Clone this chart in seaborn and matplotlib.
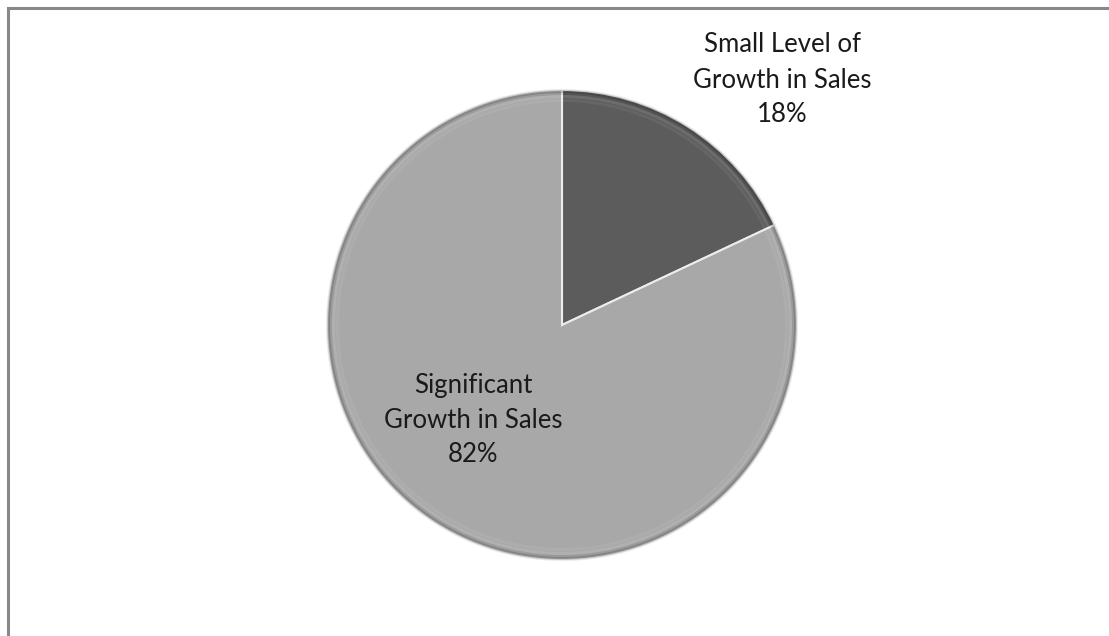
import matplotlib
matplotlib.use("Agg")
import matplotlib.pyplot as plt
from matplotlib.patches import Rectangle, Wedge
import seaborn as sns

# Survey result: growth in sales
categories = ["Small Level of\nGrowth in Sales", "Significant\nGrowth in Sales"]
shares = [18, 82]
slice_colors = ["#5c5c5c", "#a8a8a8"]

sns.set_theme(style="white")
plt.rcParams["font.family"] = ["Lato", "DejaVu Sans"]

W, H = 1109, 636
fig = plt.figure(figsize=(W / 100, H / 100), dpi=100)
ax = fig.add_axes([0, 0, 1, 1])

# y axis runs downward, so -90 degrees is the top of the circle and
# increasing angles sweep clockwise on screen
cx, cy, r = 562, 325, 235
wedges, _ = ax.pie(
    shares,
    colors=slice_colors,
    startangle=-90,
    counterclock=True,
    center=(cx, cy),
    radius=r,
    wedgeprops=dict(edgecolor="#ececec", linewidth=1.5),
    frame=True,
)

# soft bevel: a dark hairline at the rim fading into a faint light band
for w in wedges:
    for dr, col, a in [(0, "black", 0.16), (2, "black", 0.08),
                       (5, "white", 0.10), (9, "white", 0.06)]:
        ax.add_patch(Wedge((cx, cy), r - dr, w.theta1, w.theta2, width=3,
                           facecolor=col, alpha=a, linewidth=0))

ax.set_xlim(0, W)
ax.set_ylim(H, 0)
ax.set_aspect("equal")
ax.axis("off")

total = sum(shares)
label_pos = [(782, 80), (473, 420)]
for name, v, (x, y) in zip(categories, shares, label_pos):
    ax.text(x, y, f"{name}\n{round(100 * v / total)}%", ha="center", va="center",
            fontsize=18.5, color="#1a1a1a", linespacing=1.5)

# outer frame of the chart area
fig.patches.append(Rectangle((8 / W, -0.1), 1.2, 1 - 8 / H + 0.1,
                             transform=fig.transFigure, fill=False,
                             edgecolor="#888888", linewidth=2.2))

fig.savefig("out.png", dpi=100, facecolor="white")
